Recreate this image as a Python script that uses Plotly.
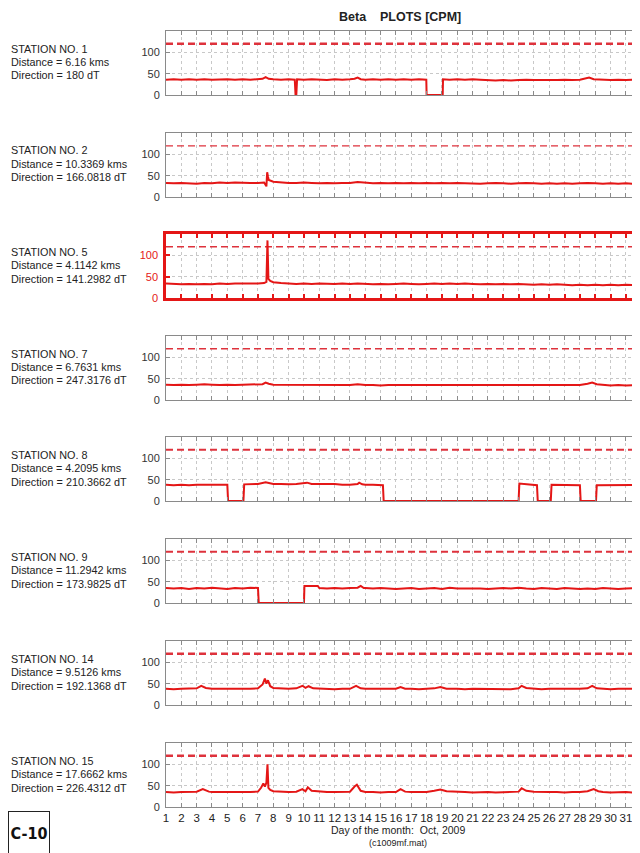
import plotly.graph_objects as go

# ---------------- data ----------------
stations = ["1", "2", "5", "7", "8", "9", "14", "15"]
distances = ["6.16", "10.3369", "4.1142", "6.7631", "4.2095", "11.2942", "9.5126", "17.6662"]
directions = ["180", "166.0818", "141.2982", "247.3176", "210.3662", "173.9825", "192.1368", "226.4312"]
threshold = 120
day_ticks = list(range(1, 32))

s1 = [(1,36),(1.5,37),(2,36),(2.5,37),(3,36),(3.5,37),(4,36),(4.5,37),(5,37),(5.5,36),(6,37),(6.5,36),
      (7,37),(7.3,38),(7.5,42),(7.7,38),(8,37),(8.5,36),(9,37),(9.4,36),(9.45,0),(9.5,0),(9.55,37),(10,36),
      (10.5,37),(11,36),(11.5,35),(12,37),(12.5,36),(13,37),(13.3,38),(13.5,41),(13.7,37),(14,36),(14.5,37),
      (15,36),(15.5,37),(16,36),(16.5,37),(17,36),(17.5,37),(17.98,36),(18.0,0),(19.05,0),(19.07,37),(19.5,36),
      (20,37),(20.5,36),(21,37),(21.5,36),(22,35),(22.5,34),(23,35),(23.5,34),(24,35),(24.5,36),(25,35),
      (25.5,35),(26,34),(26.5,35),(27,36),(27.5,35),(28,36),(28.3,38),(28.6,41),(28.9,37),(29.5,36),(30,35),
      (30.5,36),(31,35),(31.5,36),(32,35)]
s2 = [(1,33),(1.5,32),(2,33),(2.5,32),(3,31),(3.5,33),(4,32),(4.5,34),(5,33),(5.5,34),(6,33),(6.5,33),(7,33),
      (7.4,34),(7.55,25),(7.6,58),(7.65,48),(7.7,40),(8,36),(8.5,34),(9,33),(9.5,33),(10,34),(10.5,33),(11,32),
      (11.5,33),(12,32),(12.5,33),(13,33),(13.5,35),(14,33),(14.5,32),(15,33),(15.5,32),(16,33),(16.5,32),
      (17,33),(17.5,32),(18,33),(18.5,32),(19,33),(19.5,32),(20,33),(20.5,32),(21,32),(21.5,31),(22,32),
      (22.5,33),(23,32),(23.5,31),(24,32),(24.5,33),(25,32),(25.5,31),(26,32),(26.5,31),(27,32),(27.5,31),
      (28,32),(28.5,33),(29,32),(29.5,31),(30,32),(30.5,31),(31,32),(31.5,31),(32,32)]
s5 = [(1,34),(1.5,33),(2,32),(2.5,33),(3,32),(3.5,33),(4,32),(4.5,34),(5,33),(5.5,34),(6,34),(6.5,33),(7,34),
      (7.4,35),(7.55,38),(7.62,135),(7.68,45),(7.8,40),(8,37),(8.5,35),(9,34),(9.5,33),(10,34),(10.5,33),
      (11,34),(11.5,33),(12,33),(12.5,34),(13,33),(13.5,34),(14,33),(14.5,32),(15,33),(15.5,32),(16,33),
      (16.5,34),(17,33),(17.5,32),(18,33),(18.5,34),(19,33),(19.5,34),(20,33),(20.5,34),(21,33),(21.5,32),
      (22,33),(22.5,32),(23,33),(23.5,32),(24,33),(24.5,32),(25,31),(25.5,32),(26,31),(26.5,32),(27,31),
      (27.5,30),(28,31),(28.5,30),(29,31),(29.5,30),(30,31),(30.5,30),(31,31),(31.5,30),(32,30)]
s7 = [(1,36),(1.5,35),(2,36),(2.5,35),(3,36),(3.5,37),(4,36),(4.5,35),(5,36),(5.5,35),(6,36),(6.5,36),(7,36),
      (7.3,37),(7.5,41),(7.7,38),(8,36),(8.5,36),(9,35),(9.5,36),(10,36),(10.5,35),(11,36),(11.5,35),(12,35),
      (12.5,36),(13,35),(13.5,37),(14,35),(14.5,35),(15,34),(15.5,35),(16,35),(16.5,34),(17,35),(17.5,34),
      (18,35),(18.5,34),(19,35),(19.5,34),(20,35),(20.5,34),(21,35),(21.5,34),(22,35),(22.5,34),(23,34),
      (23.5,35),(24,34),(24.5,35),(25,34),(25.5,34),(26,35),(26.5,34),(27,34),(27.5,35),(28,35),(28.5,38),
      (28.8,41),(29.1,37),(29.5,35),(30,34),(30.5,35),(31,34),(31.5,35),(32,34)]
s8 = [(1,38),(1.5,37),(2,38),(2.5,37),(3,38),(3.5,38),(4,38),(4.5,37),(5,38),(5.05,0),(6.05,0),(6.1,39),
      (6.5,40),(7,40),(7.5,44),(7.8,41),(8,40),(8.5,40),(9,39),(9.5,40),(10,41),(10.2,43),(10.5,40),(11,40),
      (11.5,39),(12,40),(12.5,38),(13,38),(13.5,40),(13.6,43),(13.8,39),(14,38),(14.5,38),(15,38),(15.15,37),
      (15.2,0),(24.0,0),(24.05,41),(24.5,40),(24.8,39),(25.2,37),(25.25,0),(26.1,0),(26.15,38),(26.5,38),
      (27,37),(27.5,38),(28.0,37),(28.05,0),(29.05,0),(29.1,37),(29.5,37),(30,38),(30.5,37),(31,38),
      (31.5,37),(32,38)]
s9 = [(1,35),(1.5,34),(2,35),(2.5,33),(3,35),(3.5,34),(4,36),(4.5,35),(5,33),(5.5,35),(6,34),(6.5,36),(7,35),
      (7.05,0),(10.0,0),(10.03,40),(10.5,40),(10.9,40),(11,35),(11.5,34),(12,35),(12.5,34),(13,35),(13.5,36),
      (13.7,40),(13.9,35),(14,35),(14.5,34),(15,35),(15.5,34),(16,33),(16.5,34),(17,35),(17.5,33),(18,34),
      (18.5,35),(19,33),(19.5,36),(20,34),(20.5,34),(21,35),(21.5,34),(22,33),(22.5,34),(23,35),(23.5,34),
      (24,36),(24.5,34),(25,33),(25.5,35),(26,34),(26.5,33),(27,35),(27.5,34),(28,33),(28.5,34),(29,33),
      (29.5,35),(30,34),(30.5,33),(31,34),(31.5,35),(32,34)]
s14 = [(1,38),(1.5,37),(2,38),(2.5,38),(3,39),(3.3,45),(3.6,40),(4,38),(4.5,38),(5,38),(5.5,37),(6,38),
       (6.5,38),(7,39),(7.3,48),(7.45,62),(7.55,50),(7.65,58),(7.8,44),(8,40),(8.5,39),(9,38),(9.5,39),
       (9.9,45),(10.1,40),(10.3,44),(10.6,39),(11,38),(11.5,38),(12,37),(12.5,38),(13,38),(13.4,45),(13.7,39),
       (14,38),(14.5,38),(15,37),(15.5,38),(16,38),(16.3,42),(16.6,38),(17,38),(17.5,37),(18,38),(18.5,39),
       (18.9,42),(19.3,38),(20,38),(20.5,37),(21,38),(21.5,38),(22,37),(22.5,38),(23,38),(23.5,37),(24,39),
       (24.2,45),(24.5,40),(25,38),(25.5,37),(26,38),(26.5,38),(27,37),(27.5,38),(28,38),(28.5,39),(28.8,45),
       (29.1,39),(29.5,38),(30,37),(30.5,38),(31,38),(31.5,37),(32,38)]
s15 = [(1,35),(1.5,34),(2,35),(2.5,35),(3,36),(3.4,42),(3.8,36),(4,35),(4.5,35),(5,34),(5.5,35),(6,35),
       (6.5,35),(7,36),(7.2,45),(7.35,55),(7.45,48),(7.55,57),(7.62,100),(7.68,45),(7.8,40),(8,37),(8.5,36),
       (9,35),(9.5,36),(9.9,42),(10.1,37),(10.25,46),(10.5,38),(11,36),(11.5,35),(12,35),(12.5,35),(13,36),
       (13.3,48),(13.45,52),(13.7,38),(14,35),(14.5,35),(15,34),(15.5,35),(16,35),(16.3,42),(16.6,36),(17,35),
       (17.5,35),(18,35),(18.5,38),(18.9,41),(19.3,37),(20,35),(20.5,35),(21,34),(21.5,35),(22,35),(22.5,34),
       (23,35),(23.5,35),(24,36),(24.2,44),(24.5,38),(25,36),(25.5,35),(26,35),(26.5,35),(27,34),(27.5,35),
       (28,35),(28.5,37),(28.9,42),(29.2,37),(29.5,35),(30,34),(30.5,35),(31,35),(31.5,34),(32,35)]
series = [s1, s2, s5, s7, s8, s9, s14, s15]

# ---------------- layout ----------------
PAGE_OFF = 8                      # default body margin of the html page
W, H = 640 - PAGE_OFF, 853 - PAGE_OFF
def px(x):
    return (x - PAGE_OFF) / W
def py(y):
    return 1 - (y - PAGE_OFF) / H

zero_px = [95, 197, 298, 400, 501, 603, 705, 807]
panel_h = 64
x_left, x_right = 166, 640
dash_w = [2.5, 1.3, 1.5, 1.5, 2.0, 2.0, 2.5, 2.5]
RED = "rgb(228,22,22)"
DASH_RED = "rgb(222,50,60)"
FONT = "Liberation Sans, Arial, sans-serif"

fig = go.Figure()
layout = dict(
    width=W, height=H, margin=dict(l=0, r=0, t=0, b=0, autoexpand=False),
    paper_bgcolor="white", plot_bgcolor="white", showlegend=False,
    font=dict(family=FONT, size=11, color="#333"),
)
annotations = []

for i, (st, data) in enumerate(zip(stations, series)):
    n = i + 1
    xs = [p[0] for p in data]
    ys = [p[1] for p in data]
    xa = "x" if n == 1 else f"x{n}"
    ya = "y" if n == 1 else f"y{n}"
    special = (st == "5")
    frame_col = RED if special else "#8a8a8a"
    frame_w = 2.5 if special else 1
    lab_col = RED if special else "#333"

    fig.add_trace(go.Scatter(x=[1, 32], y=[threshold, threshold], mode="lines",
                             line=dict(color=DASH_RED, width=dash_w[i], dash="7px,4px"),
                             xaxis=xa, yaxis=ya, hoverinfo="skip"))
    fig.add_trace(go.Scatter(x=xs, y=ys, mode="lines", line=dict(color=RED, width=2),
                             xaxis=xa, yaxis=ya))

    last = (n == len(stations))
    layout["xaxis" + ("" if n == 1 else str(n))] = dict(
        domain=[px(x_left), min(1.0, px(x_right))], range=[1, 31.92], anchor=ya,
        tickmode="array", tickvals=day_ticks, showticklabels=last,
        ticks="inside", ticklen=4, tickwidth=2 if special else 1, tickcolor=frame_col,
        showline=True, linecolor=frame_col, linewidth=frame_w, mirror="ticks",
        showgrid=True, gridcolor="#c8c8c8", griddash="dot", gridwidth=1,
        zeroline=False, tickfont=dict(size=11.5, color="#222"),
    )
    layout["yaxis" + ("" if n == 1 else str(n))] = dict(
        domain=[py(zero_px[i]), py(zero_px[i] - panel_h)], range=[0, 150], anchor=xa,
        tickmode="array", tickvals=[0, 50, 100],
        ticks="inside", ticklen=4, tickwidth=2 if special else 1, tickcolor=frame_col,
        showline=True, linecolor=frame_col, linewidth=frame_w, mirror="ticks",
        showgrid=True, gridcolor="#c8c8c8", griddash="dot", gridwidth=1,
        zeroline=False, tickfont=dict(size=11, color=lab_col), ticklabelstandoff=3,
    )
    mid = zero_px[i] - panel_h / 2 - 1
    lines = [f"STATION NO. {st}", f"Distance = {distances[i]} kms", f"Direction = {directions[i]} dT"]
    for k, t in enumerate(lines):
        annotations.append(dict(
            xref="paper", yref="paper", x=px(9), y=py(mid + (k - 1) * 13.5),
            xanchor="left", yanchor="middle", align="left", showarrow=False,
            text=t, font=dict(size=10.8, color="#222", family=FONT),
        ))

annotations += [
    dict(xref="paper", yref="paper", x=px(400), y=py(17), xanchor="center", yanchor="middle",
         showarrow=False, text="<b>Beta\u00a0\u00a0\u00a0\u00a0PLOTS [CPM]</b>",
         font=dict(size=12.5, color="#222", family=FONT)),
    dict(xref="paper", yref="paper", x=px(398), y=py(830), xanchor="center", yanchor="middle",
         showarrow=False, text="Day of the month:  Oct, 2009", font=dict(size=10.5, color="#222", family=FONT)),
    dict(xref="paper", yref="paper", x=px(398), y=py(843), xanchor="center", yanchor="middle",
         showarrow=False, text="(c1009mf.mat)", font=dict(size=9, color="#222", family=FONT)),
    dict(xref="paper", yref="paper", x=px(29), y=py(833), xanchor="center", yanchor="middle",
         showarrow=False, text="<b>C-10</b>", bordercolor="#222", borderwidth=1, borderpad=1,
         width=38, height=40,
         font=dict(size=16, color="#111", family="DejaVu Sans Condensed, Liberation Sans Narrow, sans-serif")),
]
layout["annotations"] = annotations
fig.update_layout(**layout)
fig.write_html("out.html")
